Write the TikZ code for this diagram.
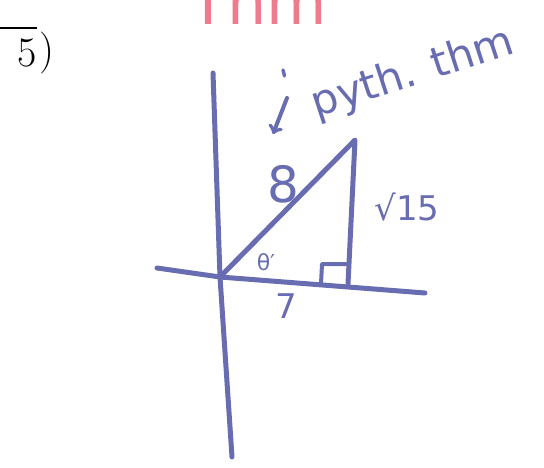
\documentclass[tikz,border=0pt]{standalone}
\usepackage{fontspec}
\newfontfamily\handfont{DejaVu Sans}
\usetikzlibrary{arrows}
\definecolor{markerblue}{RGB}{104,108,176}
\definecolor{pinkpen}{RGB}{240,122,142}
\tikzstyle{marker} = [draw=markerblue, line width=5pt, line cap=round, line join=round]
\tikzstyle{hand} = [text=markerblue, font=\handfont, inner sep=0pt]

\begin{document}
\begin{tikzpicture}[x=1pt,y=-1pt]
        \useasboundingbox (0,0) rectangle (544,468);
        % axes
        \coordinate (xl) at (157,268);
        \coordinate (O) at (220,277);
        \coordinate (xr) at (425,293);
        \coordinate (yt) at (213,73);
        \coordinate (yb) at (232,457);
        \draw[marker] (xl) -- (O) -- (xr);
        \draw[marker] (yt) -- (O) -- (yb);
        % triangle
        \coordinate (A) at (355,140);
        \coordinate (F) at (348,284);
        \draw[marker] (O) -- (A) -- (F);
        \draw[marker, line width=4pt] (321,284) -- (322,264) -- (347,264);
        \node[hand, font=\handfont\fontsize{50}{50}\selectfont] (hyp) at (283,184) {8};
        \node[hand, font=\handfont\fontsize{34}{34}\selectfont] (opp) at (407,207) {√15};
        \node[hand, font=\handfont\fontsize{34}{34}\selectfont] (adj) at (286,306) {7};
        \node[hand, font=\handfont\fontsize{22}{22}\selectfont] (ang) at (266,262) {θ′};
        % note
        \node[hand, rotate=18, font=\handfont\fontsize{42}{42}\selectfont] (note) at (413,74) {pyth. thm};
        \coordinate (tail) at (287,98);
        \coordinate (tip) at (273,134);
        \draw[marker, line width=3.5pt] (283,70) -- (284.5,76);
        \begin{scope}[-to]
            \draw[marker, line width=4pt] (tail) -- (tip);
        \end{scope}
        % cut-off text
        \node[font=\fontsize{42}{42}\selectfont, inner sep=0pt] (five) at (27,53) {5};
        \node[font=\fontsize{42}{42}\selectfont, inner sep=0pt, anchor=west] (paren) at ([xshift=2pt]five.east) {)};
        \draw[line width=1.2pt] (0,28) -- (five.east |- 0,28);
        \node[text=pinkpen, font=\handfont\fontsize{62}{62}\selectfont, inner sep=0pt] (pink) at (258,1) {Thm};
    \end{tikzpicture}
\end{document}
